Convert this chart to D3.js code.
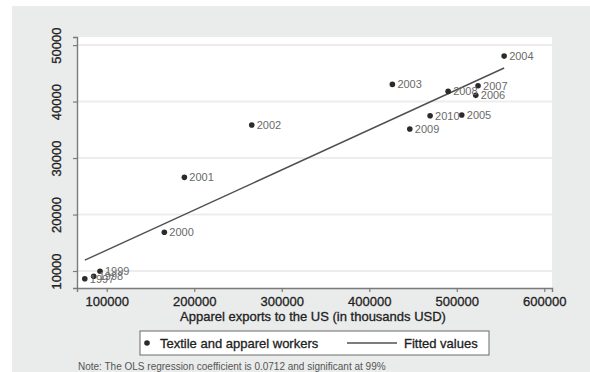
<!DOCTYPE html>
<html>
<head>
<meta charset="utf-8">
<script src="https://cdn.jsdelivr.net/npm/d3@7/dist/d3.min.js"></script>
<style>
  html, body { margin: 0; padding: 0; background: #ffffff; }
  svg { display: block; font-family: "Liberation Sans", Arial, sans-serif; }
</style>
</head>
<body>
<svg id="chart" width="590" height="372"></svg>
<script>
// Apparel exports to the US (thousands USD) and textile/apparel workers, by year
const years   = [1997, 1998, 1999, 2000, 2001, 2002, 2003, 2004, 2005, 2006, 2007, 2008, 2009, 2010];
const exports = [74900, 85100, 92300, 165800, 188700, 265700, 426400, 554100, 505700, 521700, 524300, 490100, 446300, 469500];
const workers = [8640, 9060, 9950, 16850, 26580, 35840, 43040, 48050, 37610, 41100, 42800, 41800, 35130, 37490];

const xTicks = [100000, 200000, 300000, 400000, 500000, 600000];
const yTicks = [10000, 20000, 30000, 40000, 50000];

const xTitle = "Apparel exports to the US (in thousands USD)";
const legendLabels = ["Textile and apparel workers", "Fitted values"];
const note = "Note: The OLS regression coefficient is 0.0712 and significant at 99%";

const points = years.map((yr, i) => ({ year: yr, x: exports[i], y: workers[i] }));

// Ordinary least squares fit of workers on exports
const mx = d3.mean(exports), my = d3.mean(workers);
const slope = d3.sum(points, p => (p.x - mx) * (p.y - my)) / d3.sum(points, p => (p.x - mx) ** 2);
const intercept = my - slope * mx;
const [xMin, xMax] = d3.extent(exports);
const fitted = [xMin, xMax].map(x => ({ x, y: intercept + slope * x }));

const svg = d3.select("#chart");
const ink = "#222222";

// Graph region background
svg.append("rect").attr("x", 12).attr("y", 6).attr("width", 578).attr("height", 366).attr("fill", "#eaebeb");

const plot = { left: 77, right: 552, top: 37, bottom: 288 };
svg.append("rect")
  .attr("x", plot.left).attr("y", plot.top)
  .attr("width", plot.right - plot.left).attr("height", plot.bottom - plot.top)
  .attr("fill", "#ffffff");

const x = d3.scaleLinear().domain([66000, 608800]).range([plot.left, plot.right]);
const y = d3.scaleLinear().domain([6990, 51430]).range([plot.bottom, plot.top]);

// Horizontal gridlines
svg.append("g").selectAll("line").data(yTicks).join("line")
  .attr("x1", plot.left).attr("x2", plot.right)
  .attr("y1", d => y(d)).attr("y2", d => y(d))
  .attr("stroke", "#ededed").attr("stroke-width", 2);

// Axes
const xAxis = svg.append("g").attr("transform", `translate(0,${plot.bottom})`)
  .call(d3.axisBottom(x).tickValues(xTicks).tickSize(4).tickPadding(5).tickFormat(d3.format("d")));
const yAxis = svg.append("g").attr("transform", `translate(${plot.left},0)`)
  .call(d3.axisLeft(y).tickValues(yTicks).tickSize(4).tickPadding(4).tickFormat(d3.format("d")));

[xAxis, yAxis].forEach(g => {
  g.select(".domain").attr("stroke", "#7a7a7a").attr("stroke-width", 1.4);
  g.selectAll(".tick line").attr("stroke", "#7a7a7a").attr("stroke-width", 1.2);
  g.selectAll(".tick text").attr("fill", ink).attr("font-size", 13)
    .attr("stroke", ink).attr("stroke-width", 0.3)
    .attr("font-family", "'Liberation Sans', Arial, sans-serif");
});
yAxis.selectAll(".tick text")
  .attr("transform", "rotate(-90)")
  .attr("x", 0).attr("y", -16)
  .attr("dy", "0")
  .attr("text-anchor", "middle");

// Axis title
svg.append("text")
  .attr("x", 313).attr("y", 321)
  .attr("text-anchor", "middle").attr("font-size", 13).attr("fill", ink)
  .attr("stroke", ink).attr("stroke-width", 0.3)
  .text(xTitle);

// Fitted line
svg.append("line")
  .attr("x1", x(fitted[0].x)).attr("y1", y(fitted[0].y))
  .attr("x2", x(fitted[1].x)).attr("y2", y(fitted[1].y))
  .attr("stroke", "#505050").attr("stroke-width", 1.4);

// Points with year labels
const pts = svg.append("g");
pts.selectAll("circle").data(points).join("circle")
  .attr("cx", d => x(d.x)).attr("cy", d => y(d.y)).attr("r", 2.8)
  .attr("fill", "#2b2b2b");
pts.selectAll("text").data(points).join("text")
  .attr("x", d => x(d.x) + 5).attr("y", d => y(d.y) + 4)
  .attr("font-size", 11).attr("fill", "#6a6a6a")
  .text(d => d.year);

// Legend
const lg = svg.append("g");
lg.append("rect").attr("x", 140).attr("y", 331).attr("width", 349).attr("height", 24)
  .attr("fill", "#ffffff").attr("stroke", "#6a6a6a").attr("stroke-width", 1);
lg.append("circle").attr("cx", 147).attr("cy", 343).attr("r", 2.8).attr("fill", "#2b2b2b");
lg.append("text").attr("x", 160).attr("y", 347.5).attr("font-size", 13).attr("fill", ink)
  .attr("stroke", ink).attr("stroke-width", 0.3)
  .text(legendLabels[0]);
lg.append("line").attr("x1", 347).attr("x2", 397).attr("y1", 343).attr("y2", 343)
  .attr("stroke", "#505050").attr("stroke-width", 1.4);
lg.append("text").attr("x", 404).attr("y", 347.5).attr("font-size", 13).attr("fill", ink)
  .attr("stroke", ink).attr("stroke-width", 0.3)
  .text(legendLabels[1]);

// Note
svg.append("text").attr("x", 78).attr("y", 370).attr("font-size", 10).attr("fill", "#555555")
  .text(note);
</script>
</body>
</html>
